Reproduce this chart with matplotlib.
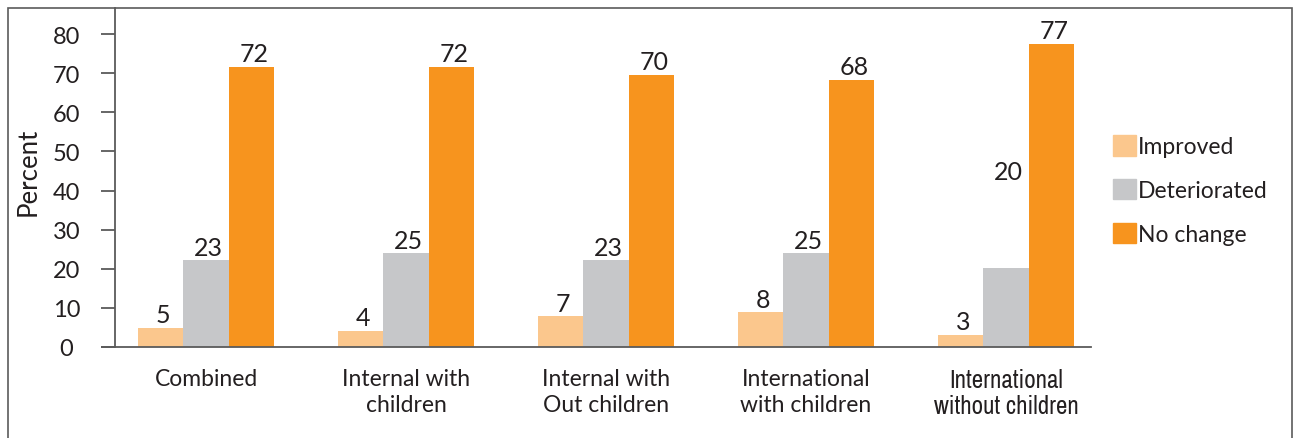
import matplotlib.pyplot as plt
from matplotlib import font_manager
from matplotlib.patches import Rectangle, Patch
import numpy as np

plt.rcParams['font.family'] = ['Lato', 'DejaVu Sans']

categories = ["Combined", "Internal with\nchildren", "Internal with\nOut children",
              "International\nwith children", "International\nwithout children"]
series = ["Improved", "Deteriorated", "No change"]
# bar heights as drawn
improved = [4.9, 4.1, 7.9, 8.9, 3.1]
deteriorated = [22.2, 24.0, 22.2, 24.0, 20.2]
no_change = [71.6, 71.6, 69.6, 68.3, 77.5]
# printed value labels
improved_lbl = [5, 4, 7, 8, 3]
deteriorated_lbl = [23, 25, 23, 25, 20]
no_change_lbl = [72, 72, 70, 68, 77]

colors = ["#FBC78D", "#C6C7C9", "#F7941E"]
axis_col = "#5b5b5b"
text_col = "#231F20"

fig = plt.figure(figsize=(12.93, 4.39), dpi=100)
ax = fig.add_axes([115/1293, 1-348/439, (1091-115)/1293, (348-9)/439])

x = np.arange(len(categories))
w = 0.2275
values = [improved, deteriorated, no_change]
labels = [improved_lbl, deteriorated_lbl, no_change_lbl]
for i, (vals, lbls) in enumerate(zip(values, labels)):
    pos = x + (i - 1) * w
    ax.bar(pos, vals, width=w, color=colors[i], label=series[i])
    for j, (p, v, l) in enumerate(zip(pos, vals, lbls)):
        y = v
        if i == 1 and j == 4:
            y = 41.5  # label floats above this bar in the original
        ax.annotate(str(l), (p, y), xytext=(2, 4), textcoords="offset points",
                    ha="center", va="baseline", fontsize=18, color=text_col)

ax.set_xlim(-0.455, 4.425)
ax.set_ylim(0, 86.7)
ax.set_yticks(range(0, 81, 10))
ax.set_xticks(x)
ax.set_xticklabels(categories, linespacing=1.3)
ax.tick_params(axis='x', length=0, pad=15, labelsize=16.5, labelcolor=text_col)
ax.tick_params(axis='y', length=10, width=1.3, color=axis_col, pad=25,
               labelsize=17, labelcolor=text_col)

narrow = [f.name for f in font_manager.fontManager.ttflist if 'Narrow' in f.name]
last = ax.get_xticklabels()[-1]
if narrow:
    last.set_family(narrow[0])
    last.set_fontsize(18)
    last.set_linespacing(1.15)
else:
    last.set_fontsize(14.5)

for s in ['top', 'right']:
    ax.spines[s].set_visible(False)
for s in ['left', 'bottom']:
    ax.spines[s].set_color(axis_col)
    ax.spines[s].set_linewidth(1.3)
ax.plot([-14/976, 0], [0, 0], transform=ax.transAxes, color=axis_col,
        lw=1.3, clip_on=False, solid_capstyle='butt')

fig.text(28/1293, 1-172/439, "Percent", rotation=90, ha="center", va="center",
         fontsize=18.5, color=text_col)

handles = [Patch(color=c, label=s) for c, s in zip(colors, series)]
fig.legend(handles=handles, loc="center left", bbox_to_anchor=(1113/1293, 1-191/439),
           frameon=False, fontsize=16.5, handlelength=1.0, handleheight=1.0,
           handletextpad=0.1, labelspacing=0.95, borderpad=0, borderaxespad=0,
           labelcolor=text_col)

fig.patches.append(Rectangle((8/1293, -0.05), (1292-8)/1293, 1.05-9/439,
                             transform=fig.transFigure, fill=False,
                             edgecolor=axis_col, lw=1.2))

fig.canvas.draw()
for t in ax.get_yticklabels():
    t.set_horizontalalignment('center')

fig.savefig("out.png", dpi=100)
